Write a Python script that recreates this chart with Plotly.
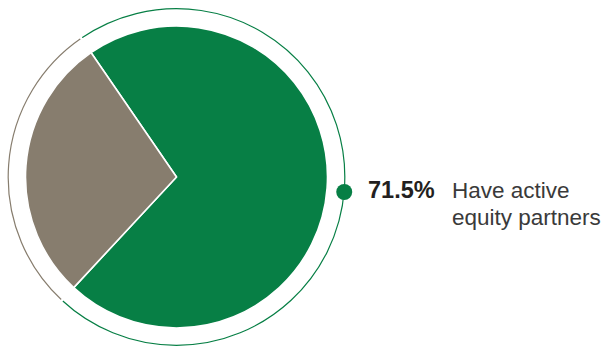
import math
import plotly.graph_objects as go

# ---- data ----
labels = ["Have active equity partners", "Other"]
values = [71.5, 28.5]
colors = ["#077f45", "#877d6e"]
highlight_value = "71.5%"
highlight_text = ["Have active", "equity partners"]

W, H = 606, 347

# geometry (pixels)
cx, cy = 176.5, 177.0
r_inner = 151.0
r_ring_fill = 170.0
ring_hole = 0.980
ring_gap = 2.2
rotation = -34.5


def dom(c, r, total, flip=False):
    a, b = c - r, c + r
    if flip:
        a, b = total - b, total - a
    return [max(0, a / total), min(1, b / total)]


fig = go.Figure()

# outer thin ring (drawn as a ring pie; white stroke trims it to a thin line with gaps)
fig.add_trace(go.Pie(
    labels=labels, values=values, sort=False, direction="clockwise",
    rotation=rotation, hole=ring_hole,
    marker=dict(colors=colors, line=dict(color="white", width=ring_gap)),
    textinfo="none", hoverinfo="skip", showlegend=False,
    domain=dict(x=dom(cx, r_ring_fill, W), y=dom(cy, r_ring_fill, H, flip=True)),
))

# main pie
fig.add_trace(go.Pie(
    labels=labels, values=values, sort=False, direction="clockwise",
    rotation=rotation,
    marker=dict(colors=colors, line=dict(color="white", width=1.6)),
    textinfo="none", hoverinfo="label+value", showlegend=False,
    domain=dict(x=dom(cx, r_inner, W), y=dom(cy, r_inner, H, flip=True)),
))

# marker dot on the ring
r_dot_path = 168.4
theta = math.radians(95.1)
dx = cx + r_dot_path * math.sin(theta)
dy = cy - r_dot_path * math.cos(theta)
rd = 8
fig.add_shape(type="circle", xref="paper", yref="paper",
              x0=(dx - rd) / W, x1=(dx + rd) / W,
              y0=(H - dy - rd) / H, y1=(H - dy + rd) / H,
              fillcolor=colors[0], line=dict(width=0))

font = "Liberation Sans, Arial, Helvetica, sans-serif"
fig.add_annotation(x=366 / W, y=(H - 190) / H, xref="paper", yref="paper",
                   text="<b>" + highlight_value + "</b>", showarrow=False,
                   xanchor="left", yanchor="middle",
                   font=dict(family=font, size=23.5, color="#231f20"))
fig.add_annotation(x=450 / W, y=(H - 190) / H, xref="paper", yref="paper",
                   text=highlight_text[0], showarrow=False,
                   xanchor="left", yanchor="middle",
                   font=dict(family=font, size=22.5, color="#3a3a3a"))
fig.add_annotation(x=450 / W, y=(H - 217.5) / H, xref="paper", yref="paper",
                   text=highlight_text[1], showarrow=False,
                   xanchor="left", yanchor="middle",
                   font=dict(family=font, size=22.5, color="#3a3a3a"))

fig.update_layout(width=W, height=H, margin=dict(l=0, r=0, t=0, b=0),
                  paper_bgcolor="white", plot_bgcolor="white")

fig.write_html("out.html", config={"displayModeBar": False},
               post_script="document.body.style.margin='0';document.body.style.overflow='hidden';")
